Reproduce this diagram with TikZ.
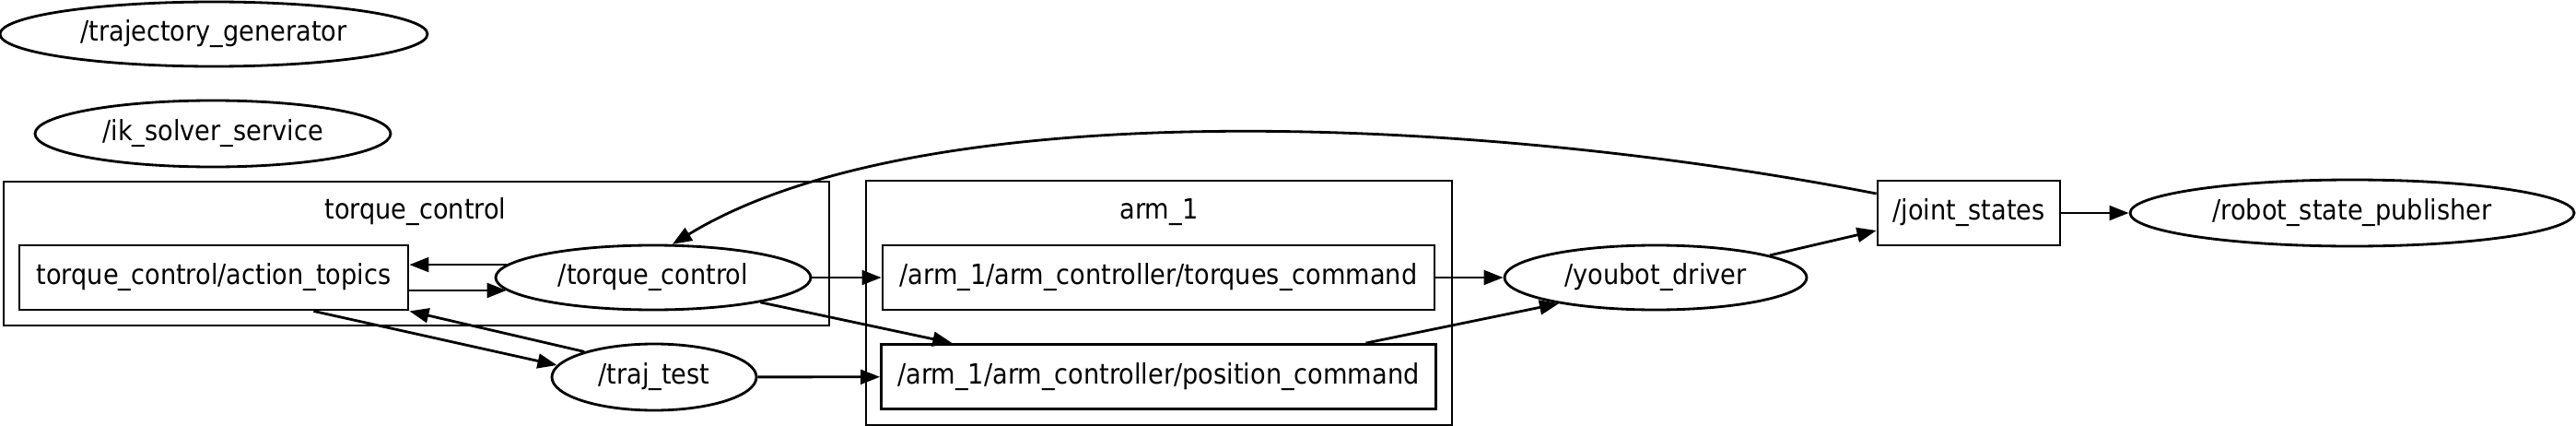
\documentclass[tikz,border=0pt]{standalone}
\usepackage{fontspec}
\setmainfont{DejaVu Sans Condensed}
\usepackage{tikz}
\usetikzlibrary{shapes.geometric,arrows.meta,positioning,calc}

\begin{document}
\begin{tikzpicture}[x=1cm,y=-1cm,
    font=\fontsize{8.6}{10.3}\selectfont,
    rosnode/.style={draw,ellipse,line width=0.8pt,inner sep=0pt},
    topic/.style={draw,rectangle,line width=0.8pt,inner sep=0pt},
    grp/.style={draw,rectangle,line width=0.8pt,inner sep=0pt},
    arr/.style={-{Triangle[length=6pt,width=4.5pt]},line width=0.8pt}]
        \useasboundingbox (0,0) rectangle (27.96,4.62);
        % Groups
        \node[grp,minimum width=8.96cm,minimum height=1.56cm] (tcgrp) at (4.52,2.75) {};
        \node (tcgrplabel) at (4.51,2.30) {torque\_control};
        \node[grp,minimum width=6.36cm,minimum height=2.65cm] (armgrp) at (12.58,3.285) {};
        \node (armgrplabel) at (12.58,2.30) {arm\_1};
        % Nodes
        \node[rosnode,minimum width=4.64cm,minimum height=0.70cm] (tg) at (2.32,0.37) {/trajectory\_generator};
        \node[rosnode,minimum width=3.86cm,minimum height=0.72cm] (iks) at (2.31,1.45) {/ik\_solver\_service};
        \node[rosnode,minimum width=3.42cm,minimum height=0.70cm] (tc) at (7.09,3.01) {/torque\_control};
        \node[rosnode,minimum width=2.22cm,minimum height=0.72cm] (tt) at (7.10,4.09) {/traj\_test};
        \node[rosnode,minimum width=3.28cm,minimum height=0.70cm] (yd) at (17.97,3.01) {/youbot\_driver};
        \node[rosnode,minimum width=4.82cm,minimum height=0.72cm] (rsp) at (25.53,2.31) {/robot\_state\_publisher};
        % Topics
        \node[topic,minimum width=4.22cm,minimum height=0.70cm] (at) at (2.32,3.01) {torque\_control/action\_topics};
        \node[topic,minimum width=5.99cm,minimum height=0.70cm] (tq) at (12.575,3.01) {/arm\_1/arm\_controller/torques\_command};
        \node[topic,minimum width=6.02cm,minimum height=0.70cm] (pc) at (12.575,4.085) {/arm\_1/arm\_controller/position\_command};
        \node[topic,minimum width=1.98cm,minimum height=0.70cm] (js) at (21.37,2.31) {/joint\_states};
        % Edges
        \draw[arr] (tc.175) -- (at.east |- tc.175);
        \draw[arr] (at.east |- tc.185) -- (tc.185);
        \draw[arr] ($(at.south east)+(-1.04,0)$) -- (tt.173);
        \draw[arr] (tt.160) -- (at.south east);
        \draw[arr] (tc) -- (tq);
        \draw[arr] (tc.-13) -- ($(pc.north)+(-2.24,0)$);
        \draw[arr] (tt) -- (pc);
        \draw[arr] (tq) -- (yd);
        \draw[arr] ($(pc.north)+(2.25,0)$) -- (yd.195);
        \draw[arr] (yd.11) -- ($(js.west)+(0,0.19)$);
        \draw[arr] (js) -- (rsp);
        \draw[arr] ($(js.west)+(0,-0.21)$) .. controls (16.00,1.25) and (10.00,1.00) .. (tc.60);
      \end{tikzpicture}
\end{document}
